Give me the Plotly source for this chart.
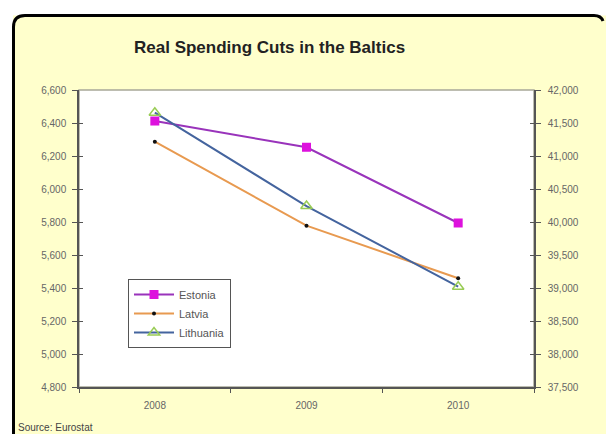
import plotly.graph_objects as go

years = ["2008", "2009", "2010"]
estonia = [6412, 6253, 5794]      # left axis
latvia = [6287, 5778, 5459]       # left axis
lithuania = [41656, 40242, 39020] # right axis

left_ticks = [4800, 5000, 5200, 5400, 5600, 5800, 6000, 6200, 6400, 6600]
right_ticks = [37500, 38000, 38500, 39000, 39500, 40000, 40500, 41000, 41500, 42000]

W, H = 606, 434
L, R, T, B = 79, 534, 90, 387

def px(x):
    return (x - L) / (R - L)

def py(y):
    return (B - y) / (B - T)

fig = go.Figure()
fig.add_trace(go.Scatter(x=years, y=estonia, name="Estonia", mode="lines+markers",
                         line=dict(color="#9933BB", width=2),
                         marker=dict(symbol="square", size=9, color="#DD11DD"), yaxis="y"))
fig.add_trace(go.Scatter(x=years, y=latvia, name="Latvia", mode="lines+markers",
                         line=dict(color="#E89A50", width=2),
                         marker=dict(symbol="circle", size=4, color="#111111"), yaxis="y"))
fig.add_trace(go.Scatter(x=years, y=lithuania, name="Lithuania", mode="lines+markers",
                         line=dict(color="#44649E", width=2),
                         marker=dict(symbol="triangle-up-open", size=10, color="#99CC55",
                                     line=dict(width=1.5)), yaxis="y2"))

tickfont = dict(family="Arial", size=10, color="#666666")

shapes = [
    # yellow chart background
    dict(type="rect", xref="paper", yref="paper", x0=px(13), x1=px(620), y0=py(450), y1=py(15.5),
         fillcolor="#FFFFCC", line=dict(width=0), layer="below"),
    # black border on top and left with rounded corner
    dict(type="path", xref="paper", yref="paper",
         path=f"M {px(13.5)},{py(440)} L {px(13.5)},{py(27)} Q {px(13.5)},{py(15.5)} {px(25)},{py(15.5)} "
              f"L {px(594)},{py(15.5)} Q {px(601)},{py(15.5)} {px(603)},{py(21)}",
         line=dict(color="#000000", width=3), layer="above"),
    # plot area
    dict(type="rect", xref="paper", yref="paper", x0=0, x1=1, y0=0, y1=1,
         fillcolor="#FFFFFF", line=dict(color="#A8A898", width=1.5), layer="below"),
]

fig.update_layout(
    width=W, height=H,
    margin=dict(l=L, r=W - R, t=T, b=H - B),
    paper_bgcolor="#FFFFFF",
    plot_bgcolor="rgba(0,0,0,0)",
    showlegend=True,
    legend=dict(x=px(128), y=py(279), xanchor="left", yanchor="top",
                bgcolor="#FFFFFF", bordercolor="#555555", borderwidth=1,
                font=dict(family="Arial", size=11, color="#555555"),
                itemwidth=40, tracegroupgap=0),
    xaxis=dict(type="category", range=[-0.5, 2.5], showgrid=False, zeroline=False,
               showline=True, linecolor="#555555", linewidth=1.5,
               ticks="outside", ticklen=4, tickcolor="#555555", tickson="boundaries",
               ticklabelstandoff=8, tickfont=tickfont),
    yaxis=dict(range=[4800, 6600], tickvals=left_ticks, tickformat=",d", showgrid=False, zeroline=False,
               showline=True, linecolor="#555555", linewidth=1.5,
               ticks="outside", ticklen=5, tickcolor="#555555", ticklabelstandoff=4, tickfont=tickfont),
    yaxis2=dict(range=[37500, 42000], tickvals=right_ticks, tickformat=",d", overlaying="y", side="right",
                showgrid=False, zeroline=False, showline=True, linecolor="#555555", linewidth=1.5,
                ticks="outside", ticklen=5, tickcolor="#555555", ticklabelstandoff=5, tickfont=tickfont),
    yaxis3=dict(range=[4800, 6600], tickvals=left_ticks, overlaying="y", side="left",
                showgrid=False, zeroline=False, showline=False, showticklabels=False,
                ticks="inside", ticklen=4, tickcolor="#555555"),
    yaxis4=dict(range=[37500, 42000], tickvals=right_ticks, overlaying="y", side="right",
                showgrid=False, zeroline=False, showline=False, showticklabels=False,
                ticks="inside", ticklen=4, tickcolor="#555555"),
    shapes=shapes,
    annotations=[
        dict(text="<b>Real Spending Cuts in the Baltics</b>", xref="paper", yref="paper",
             x=px(269), y=py(47), xanchor="center", yanchor="middle", showarrow=False,
             font=dict(family="Arial", size=17, color="#222222")),
        dict(text="Source: Eurostat", xref="paper", yref="paper",
             x=px(16), y=py(427), xanchor="left", yanchor="middle", showarrow=False,
             font=dict(family="Arial", size=10, color="#444444")),
    ],
)

# dummy traces to activate tick-only overlay axes
fig.add_trace(go.Scatter(x=[None], y=[None], yaxis="y3", showlegend=False, hoverinfo="skip"))
fig.add_trace(go.Scatter(x=[None], y=[None], yaxis="y4", showlegend=False, hoverinfo="skip"))

fig.write_html("out.html")
